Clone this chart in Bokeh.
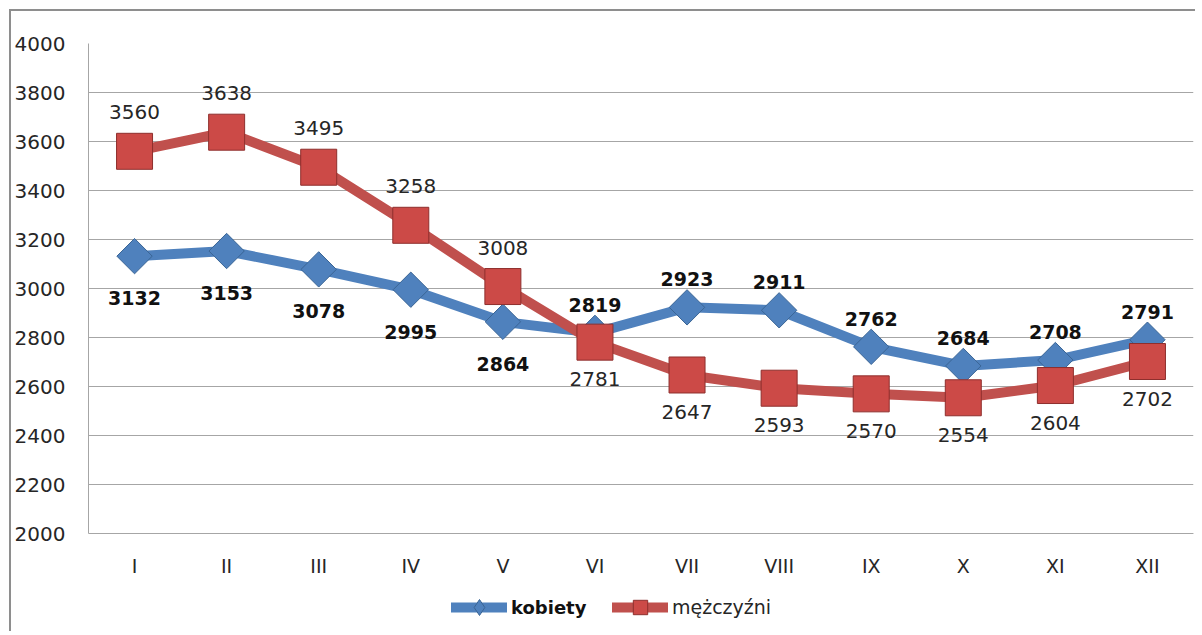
from bokeh.plotting import figure
from bokeh.models import ColumnDataSource, FactorRange, Range1d, FixedTicker, Legend, LegendItem
from bokeh.core.properties import value
from bokeh.embed import file_html
from bokeh.resources import INLINE
import math

months = ["I", "II", "III", "IV", "V", "VI", "VII", "VIII", "IX", "X", "XI", "XII"]
kobiety = [3132, 3153, 3078, 2995, 2864, 2819, 2923, 2911, 2762, 2684, 2708, 2791]
mezczyzni = [3560, 3638, 3495, 3258, 3008, 2781, 2647, 2593, 2570, 2554, 2604, 2702]
y_ticks = [2000, 2200, 2400, 2600, 2800, 3000, 3200, 3400, 3600, 3800, 4000]

# label placement per point: "below" / "above"
k_place = ["below"] * 5 + ["above"] * 7
m_place = ["above"] * 5 + ["below"] * 7

BLUE = "#4f81bd"
RED = "#c0504d"
FONT = "DejaVu Sans"

W, H = 1186, 622
TOP = 32
px_per_unit = 490 / 2000.0
y_lo = 4000 - (H - TOP) / px_per_unit

p = figure(width=W, height=H, output_backend="svg", toolbar_location=None,
           x_range=FactorRange(*months, range_padding=0), y_range=Range1d(y_lo, 4000),
           min_border_left=70, min_border_top=TOP, min_border_right=4, min_border_bottom=0,
           styles={"border-left": "2px solid #8e8e8e", "border-top": "2px solid #8e8e8e",
                   "margin-left": "9px", "margin-top": "9px"})
p.outline_line_color = None
p.xgrid.grid_line_color = None
p.ygrid.grid_line_color = "#a6a6a6"
p.ygrid.grid_line_width = 1

p.yaxis.ticker = FixedTicker(ticks=y_ticks)
p.yaxis.bounds = (2000, 4000)
p.yaxis.axis_line_color = "#a6a6a6"
p.yaxis.major_tick_line_color = None
p.yaxis.minor_tick_line_color = None
p.yaxis.major_tick_out = 0
p.yaxis.major_tick_in = 0
p.yaxis.major_label_standoff = 23
p.yaxis.major_label_text_font = FONT
p.yaxis.major_label_text_font_size = "20px"
p.yaxis.major_label_text_color = "#262626"

p.xaxis.fixed_location = 2000
p.xaxis.axis_line_color = "#a6a6a6"
p.xaxis.major_tick_line_color = None
p.xaxis.minor_tick_line_color = None
p.xaxis.major_tick_out = 0
p.xaxis.major_tick_in = 0
p.xaxis.major_label_standoff = 21
p.xaxis.major_label_text_font = FONT
p.xaxis.major_label_text_font_size = "19px"
p.xaxis.major_label_text_color = "#262626"

ks = ColumnDataSource(dict(x=months, y=kobiety, t=[str(v) for v in kobiety],
                           off=[-28 if pl == "above" else 42 for pl in k_place]))
ms = ColumnDataSource(dict(x=months, y=mezczyzni, t=[str(v) for v in mezczyzni],
                           off=[-39 if pl == "above" else 37 for pl in m_place]))

kl = p.line("x", "y", source=ks, line_color=BLUE, line_width=10, line_cap="round", line_join="round")
ml = p.line("x", "y", source=ms, line_color=RED, line_width=10, line_cap="round", line_join="round")
km = p.scatter("x", "y", source=ks, marker="square", angle=math.pi / 4, size=25,
               fill_color=BLUE, line_color="#3a6595", line_width=1)
mm = p.scatter("x", "y", source=ms, marker="square", size=36,
               fill_color="#cc4a47", line_color="#8e2f2d", line_width=1)
# legend-only diamond marker (hidden in the plot)
kd = p.scatter("x", "y", source=ks, marker="diamond", size=20,
               fill_color=BLUE, line_color="#3a6595", line_width=1, visible=False)

p.text("x", "y", text="t", source=ks, y_offset="off", text_align="center", text_baseline="middle",
       text_font=value(FONT), text_font_size="19px", text_font_style="bold", text_color="#111111")
p.text("x", "y", text="t", source=ms, y_offset="off", text_align="center", text_baseline="middle",
       text_font=value(FONT), text_font_size="20px", text_color="#262626")

leg1 = Legend(items=[LegendItem(label="kobiety", renderers=[kl, kd])], location=(363, 6),
              orientation="horizontal", glyph_width=56, glyph_height=40, label_standoff=4,
              padding=0, margin=0, border_line_color=None, background_fill_alpha=0,
              inactive_fill_alpha=0,
              label_text_font=FONT, label_text_font_size="18px", label_text_font_style="bold",
              label_text_color="#111111")
leg2 = Legend(items=[LegendItem(label="mężczyźni", renderers=[ml, mm])], location=(524, 8),
              orientation="horizontal", glyph_width=56, glyph_height=36, label_standoff=4,
              padding=0, margin=0, border_line_color=None, background_fill_alpha=0,
              label_text_font=FONT, label_text_font_size="19px",
              label_text_color="#262626")
p.add_layout(leg1, "center")
p.add_layout(leg2, "center")

open("out.html", "w").write(file_html(p, INLINE))
